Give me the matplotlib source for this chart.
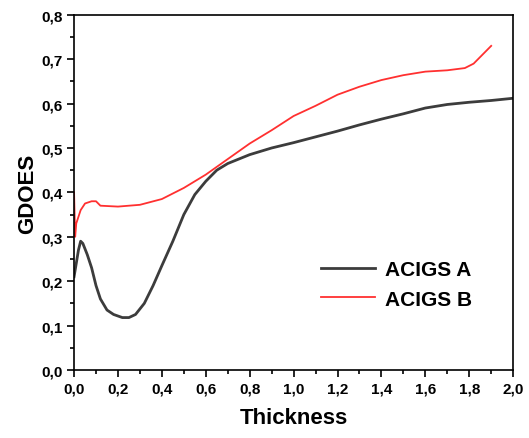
import matplotlib
matplotlib.use("Agg")
import matplotlib.pyplot as plt
from matplotlib.ticker import MultipleLocator, FuncFormatter

plt.rcParams["font.family"] = ["Liberation Sans", "DejaVu Sans"]

# ACIGS A (black)
thick_a = [0.0, 0.01, 0.02, 0.03, 0.04, 0.06, 0.08, 0.10, 0.12, 0.15, 0.18, 0.22,
           0.25, 0.28, 0.32, 0.36, 0.40, 0.45, 0.50, 0.55, 0.60, 0.65, 0.70, 0.80,
           0.90, 1.0, 1.1, 1.2, 1.3, 1.4, 1.5, 1.6, 1.7, 1.8, 1.9, 2.0]
gdoes_a = [0.21, 0.24, 0.27, 0.29, 0.285, 0.26, 0.23, 0.19, 0.16, 0.135, 0.125, 0.118,
           0.118, 0.125, 0.15, 0.19, 0.235, 0.29, 0.35, 0.395, 0.425, 0.45, 0.465, 0.485,
           0.50, 0.512, 0.525, 0.538, 0.552, 0.565, 0.577, 0.59, 0.598, 0.603, 0.607, 0.612]

# ACIGS B (red)
thick_b = [0.0, 0.005, 0.01, 0.03, 0.05, 0.08, 0.10, 0.12, 0.2, 0.3, 0.4, 0.5, 0.6,
           0.7, 0.8, 0.9, 1.0, 1.1, 1.2, 1.3, 1.4, 1.5, 1.6, 1.7, 1.78, 1.82, 1.86, 1.9]
gdoes_b = [0.40, 0.30, 0.33, 0.36, 0.375, 0.38, 0.38, 0.37, 0.368, 0.372, 0.385, 0.41,
           0.44, 0.475, 0.51, 0.54, 0.572, 0.595, 0.62, 0.638, 0.653, 0.664, 0.672, 0.675,
           0.68, 0.69, 0.71, 0.73]

fig = plt.figure(figsize=(5.29, 4.39), dpi=100)
ax = fig.add_axes([0.140, 0.155, 0.830, 0.809])

ax.plot(thick_a, gdoes_a, color="#3c3c3c", lw=2.0, label="ACIGS A")
ax.plot(thick_b, gdoes_b, color="#ff3030", lw=1.3, label="ACIGS B")

ax.set_xlim(0, 2.0)
ax.set_ylim(0, 0.8)
ax.xaxis.set_major_locator(MultipleLocator(0.2))
ax.xaxis.set_minor_locator(MultipleLocator(0.1))
ax.yaxis.set_major_locator(MultipleLocator(0.1))
ax.yaxis.set_minor_locator(MultipleLocator(0.05))
fmt = FuncFormatter(lambda v, p: f"{v:.1f}".replace(".", ","))
ax.xaxis.set_major_formatter(fmt)
ax.yaxis.set_major_formatter(fmt)
ax.tick_params(which="both", direction="out", width=1.2, labelsize=11)
ax.tick_params(which="major", length=5)
ax.tick_params(which="minor", length=3)
for lab in ax.get_xticklabels() + ax.get_yticklabels():
    lab.set_fontweight("bold")
for s in ax.spines.values():
    s.set_linewidth(1.2)

ax.set_xlabel("Thickness", fontsize=16, fontweight="bold", labelpad=8)
ax.set_ylabel("GDOES", fontsize=16, fontweight="bold", labelpad=2)

leg = ax.legend(loc="lower right", bbox_to_anchor=(0.95, 0.12), frameon=False,
                prop={"size": 15, "weight": "bold"}, handlelength=2.6,
                handletextpad=0.5)

fig.savefig("out.png", dpi=100)
